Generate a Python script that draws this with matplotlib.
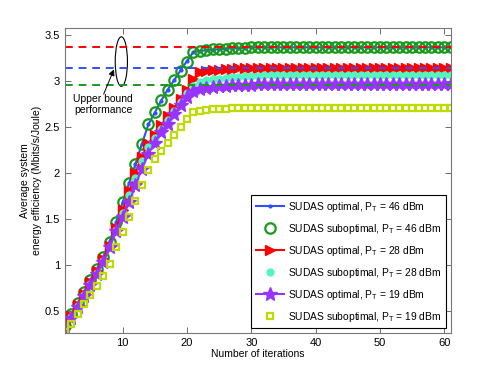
import matplotlib
matplotlib.use('Agg')
import matplotlib.pyplot as plt
from matplotlib.patches import Ellipse

plt.rcParams['font.family'] = ['Liberation Sans', 'DejaVu Sans']
plt.rcParams['mathtext.fontset'] = 'custom'
plt.rcParams['mathtext.rm'] = 'Liberation Sans'
plt.rcParams['mathtext.it'] = 'Liberation Sans:italic'

iterations = list(range(1, 62))

opt_46 = [0.34, 0.46, 0.58, 0.71, 0.84, 0.96, 1.09, 1.26, 1.47, 1.68,
          1.89, 2.10, 2.32, 2.53, 2.66, 2.79, 2.91, 3.01, 3.12, 3.22,
          3.32, 3.33, 3.34, 3.345, 3.35, 3.355, 3.36, 3.36, 3.365, 3.37,
          3.37, 3.37, 3.37, 3.37, 3.37, 3.37, 3.37, 3.37, 3.37, 3.37,
          3.37, 3.37, 3.37, 3.37, 3.37, 3.37, 3.37, 3.37, 3.37, 3.37,
          3.37, 3.37, 3.37, 3.37, 3.37, 3.37, 3.37, 3.37, 3.37, 3.37, 3.37]
subopt_46 = [0.33, 0.46, 0.58, 0.71, 0.84, 0.96, 1.09, 1.25, 1.47, 1.68,
             1.89, 2.10, 2.32, 2.53, 2.67, 2.80, 2.91, 3.01, 3.11, 3.21,
             3.32, 3.33, 3.34, 3.35, 3.35, 3.355, 3.36, 3.365, 3.365, 3.37,
             3.37, 3.37, 3.37, 3.37, 3.37, 3.37, 3.37, 3.37, 3.37, 3.37,
             3.37, 3.37, 3.37, 3.37, 3.37, 3.37, 3.37, 3.37, 3.37, 3.37,
             3.37, 3.37, 3.37, 3.37, 3.37, 3.37, 3.37, 3.37, 3.37, 3.37, 3.37]
opt_28 = [0.32, 0.44, 0.56, 0.68, 0.81, 0.93, 1.06, 1.21, 1.40, 1.60,
          1.80, 2.00, 2.18, 2.32, 2.42, 2.52, 2.62, 2.71, 2.81, 2.91,
          3.02, 3.10, 3.11, 3.12, 3.125, 3.13, 3.135, 3.14, 3.14, 3.145,
          3.15, 3.15, 3.15, 3.15, 3.15, 3.15, 3.15, 3.15, 3.15, 3.15,
          3.15, 3.15, 3.15, 3.15, 3.15, 3.15, 3.15, 3.15, 3.15, 3.15,
          3.15, 3.15, 3.15, 3.15, 3.15, 3.15, 3.15, 3.15, 3.15, 3.15, 3.15]
subopt_28 = [0.32, 0.43, 0.55, 0.67, 0.79, 0.91, 1.04, 1.19, 1.38, 1.57,
             1.76, 1.95, 2.13, 2.28, 2.38, 2.48, 2.58, 2.68, 2.77, 2.87,
             2.95, 2.99, 3.01, 3.02, 3.03, 3.04, 3.045, 3.05, 3.055, 3.06,
             3.06, 3.065, 3.065, 3.07, 3.07, 3.07, 3.07, 3.07, 3.07, 3.07,
             3.07, 3.07, 3.07, 3.07, 3.07, 3.07, 3.07, 3.07, 3.07, 3.07,
             3.07, 3.07, 3.07, 3.07, 3.07, 3.07, 3.07, 3.07, 3.07, 3.07, 3.07]
opt_19 = [0.31, 0.42, 0.54, 0.66, 0.78, 0.90, 1.03, 1.19, 1.37, 1.52,
          1.68, 1.87, 2.05, 2.21, 2.33, 2.45, 2.54, 2.64, 2.74, 2.83,
          2.89, 2.92, 2.93, 2.94, 2.945, 2.95, 2.955, 2.96, 2.96, 2.965,
          2.97, 2.97, 2.97, 2.97, 2.97, 2.97, 2.97, 2.97, 2.97, 2.97,
          2.97, 2.97, 2.97, 2.97, 2.97, 2.97, 2.97, 2.97, 2.97, 2.97,
          2.97, 2.97, 2.97, 2.97, 2.97, 2.97, 2.97, 2.97, 2.97, 2.97, 2.97]
subopt_19 = [0.27, 0.36, 0.46, 0.57, 0.67, 0.77, 0.88, 1.01, 1.19, 1.36,
             1.52, 1.70, 1.87, 2.03, 2.15, 2.24, 2.33, 2.41, 2.50, 2.59,
             2.67, 2.68, 2.69, 2.695, 2.70, 2.70, 2.705, 2.705, 2.71, 2.71,
             2.71, 2.71, 2.71, 2.71, 2.71, 2.71, 2.71, 2.71, 2.71, 2.71,
             2.71, 2.71, 2.71, 2.71, 2.71, 2.71, 2.71, 2.71, 2.71, 2.71,
             2.71, 2.71, 2.71, 2.71, 2.71, 2.71, 2.71, 2.71, 2.71, 2.71, 2.71]

# upper bound levels (dashed lines)
upper_bounds = [3.37, 3.15, 2.96]
upper_colors = ['#ff0000', '#3050ff', '#1a9a1a']

fig = plt.figure(figsize=(4.98, 3.74), dpi=100)
ax = fig.add_axes([0.13, 0.11, 0.775, 0.815])

ax.plot(iterations, opt_46, color='#3050ff', lw=1.5, marker='.', ms=4,
        label=r'SUDAS optimal, P$_{\mathrm{T}}$ = 46 dBm')
ax.plot(iterations, subopt_46, ls='none', marker='o', ms=7.5, mfc='none',
        mec='#1a9a1a', mew=1.6, label=r'SUDAS suboptimal, P$_{\mathrm{T}}$ = 46 dBm')
ax.plot(iterations, opt_28, color='#ff0000', lw=1.5, marker='>', ms=6.5,
        label=r'SUDAS optimal, P$_{\mathrm{T}}$ = 28 dBm')
ax.plot(iterations, subopt_28, ls='none', marker='o', ms=5, color='#55f5c0',
        mec='#55f5c0', label=r'SUDAS suboptimal, P$_{\mathrm{T}}$ = 28 dBm')
ax.plot(iterations, opt_19, color='#9933ff', lw=1.5, marker='*', ms=10,
        label=r'SUDAS optimal, P$_{\mathrm{T}}$ = 19 dBm')
ax.plot(iterations, subopt_19, ls='none', marker='s', ms=4, mfc='none',
        mec='#bfdc00', mew=1.6, label=r'SUDAS suboptimal, P$_{\mathrm{T}}$ = 19 dBm')

for yb, c in zip(upper_bounds, upper_colors):
    ax.axhline(yb, color=c, ls=(0, (4, 3)), lw=1.4)

ax.add_patch(Ellipse((9.8, 3.215), 1.9, 0.54, fill=False, ec='black', lw=0.8))
ax.annotate('', xy=(8.65, 3.13), xytext=(7.05, 2.86),
            arrowprops=dict(arrowstyle='-|>', color='black', lw=0.7,
                            mutation_scale=9, shrinkA=0, shrinkB=0))
ax.text(7.0, 2.745, 'Upper bound\nperformance', ha='center', va='center',
        fontsize=7.5, linespacing=1.1)

ax.set_xlim(1, 61)
ax.set_ylim(0.26, 3.58)
ax.set_xticks([10, 20, 30, 40, 50, 60])
ax.set_yticks([0.5, 1, 1.5, 2, 2.5, 3, 3.5])
ax.set_yticklabels(['0.5', '1', '1.5', '2', '2.5', '3', '3.5'])
ax.tick_params(direction='in', top=True, right=True, labelsize=8,
               length=4, width=0.6, color='#555555')
for s in ax.spines.values():
    s.set_color('#777777')
    s.set_linewidth(0.8)

ax.set_xlabel('Number of iterations', fontsize=7.5, labelpad=1)
ax.set_ylabel('Average system\nenergy efficiency (Mbits/s/Joule)', fontsize=7.5, labelpad=2)

leg = ax.legend(loc='lower right', fontsize=7.4, fancybox=False, framealpha=1,
                edgecolor='black', borderaxespad=0.45, handlelength=2.8,
                labelspacing=0.78, borderpad=0.45, handletextpad=0.35)
leg.get_frame().set_linewidth(0.8)

fig.savefig('out.png', dpi=100)
